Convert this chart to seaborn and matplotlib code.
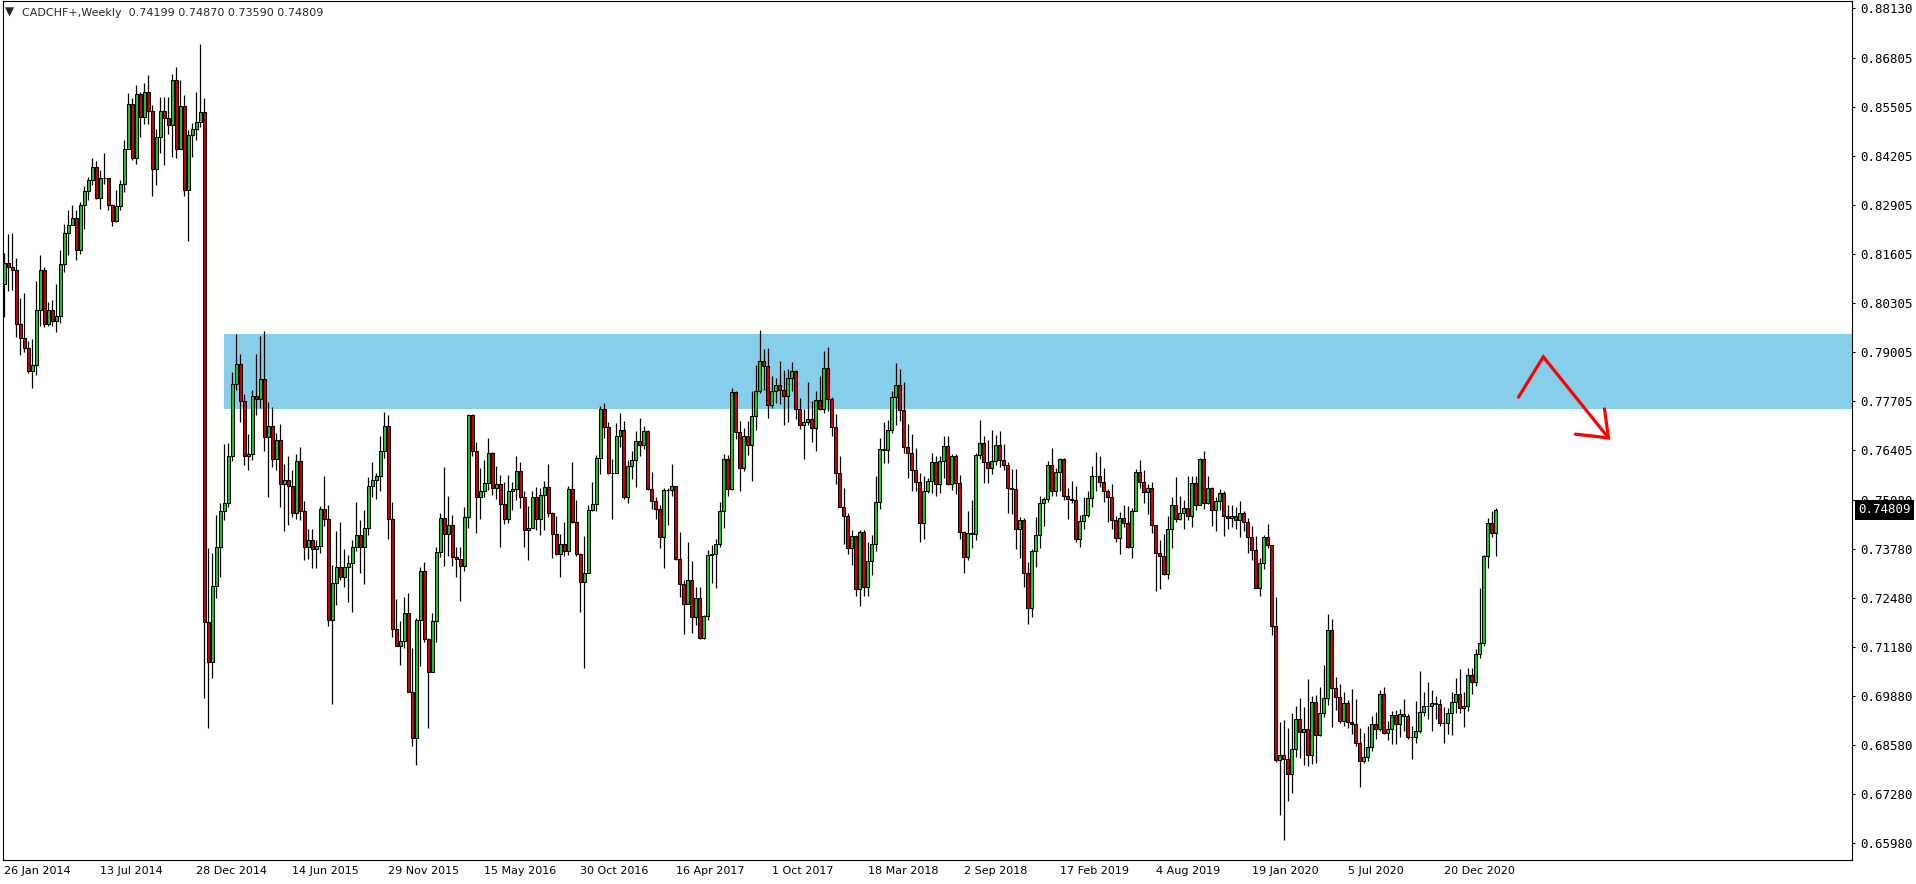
import numpy as np
import pandas as pd
import matplotlib
matplotlib.use("Agg")
import matplotlib.pyplot as plt
from matplotlib.transforms import blended_transform_factory
import seaborn as sns

sns.set_style("white")
plt.rcParams["font.family"] = ["DejaVu Sans"]

# weekly CADCHF+ candles, first week = 26 Jan 2014
first_open = 0.8081

closes = [
    0.8137, 0.8125, 0.8118, 0.7973, 0.7938, 0.7911, 0.7850, 0.7865, 0.8012, 0.8118,
    0.7973, 0.8010, 0.7982, 0.7995, 0.8134, 0.8214, 0.8236, 0.8256, 0.8170, 0.8289,
    0.8326, 0.8355, 0.8389, 0.8307, 0.8362, 0.8361, 0.8289, 0.8247, 0.8286, 0.8345,
    0.8439, 0.8556, 0.8413, 0.8585, 0.8523, 0.8589, 0.8539, 0.8386, 0.8470, 0.8538,
    0.8521, 0.8501, 0.8622, 0.8439, 0.8552, 0.8330, 0.8476, 0.8490, 0.8509, 0.8535,
    0.7185, 0.7079, 0.7280, 0.7384, 0.7478, 0.7499, 0.7624, 0.7814, 0.7867, 0.7771,
    0.7624, 0.7629, 0.7782, 0.7775, 0.7828, 0.7674, 0.7704, 0.7615, 0.7667, 0.7549,
    0.7561, 0.7545, 0.7474, 0.7611, 0.7479, 0.7384, 0.7402, 0.7377, 0.7386, 0.7483,
    0.7456, 0.7188, 0.7288, 0.7329, 0.7303, 0.7331, 0.7340, 0.7382, 0.7415, 0.7382,
    0.7433, 0.7545, 0.7561, 0.7570, 0.7638, 0.7704, 0.7456, 0.7165, 0.7121, 0.7134,
    0.7207, 0.6999, 0.6876, 0.7189, 0.7319, 0.7138, 0.7052, 0.7187, 0.7369, 0.7459,
    0.7417, 0.7441, 0.7357, 0.7351, 0.7333, 0.7462, 0.7733, 0.7636, 0.7516, 0.7532,
    0.7552, 0.7631, 0.7539, 0.7549, 0.7496, 0.7456, 0.7532, 0.7537, 0.7583, 0.7515,
    0.7428, 0.7433, 0.7515, 0.7456, 0.7521, 0.7541, 0.7472, 0.7417, 0.7364, 0.7390,
    0.7372, 0.7537, 0.7448, 0.7364, 0.7291, 0.7313, 0.7481, 0.7497, 0.7618, 0.7749,
    0.7700, 0.7578, 0.7580, 0.7676, 0.7693, 0.7515, 0.7598, 0.7614, 0.7664, 0.7654,
    0.7689, 0.7536, 0.7505, 0.7483, 0.7409, 0.7534, 0.7535, 0.7545, 0.7351, 0.7284,
    0.7231, 0.7296, 0.7198, 0.7247, 0.7141, 0.7200, 0.7362, 0.7365, 0.7391, 0.7478,
    0.7615, 0.7536, 0.7793, 0.7687, 0.7592, 0.7677, 0.7652, 0.7729, 0.7797, 0.7877,
    0.7863, 0.7758, 0.7797, 0.7813, 0.7798, 0.7783, 0.7830, 0.7850, 0.7748, 0.7705,
    0.7714, 0.7722, 0.7698, 0.7773, 0.7748, 0.7857, 0.7775, 0.7700, 0.7578, 0.7490,
    0.7466, 0.7381, 0.7412, 0.7271, 0.7422, 0.7276, 0.7346, 0.7390, 0.7503, 0.7642,
    0.7640, 0.7693, 0.7780, 0.7813, 0.7746, 0.7649, 0.7631, 0.7587, 0.7556, 0.7446,
    0.7532, 0.7558, 0.7608, 0.7549, 0.7612, 0.7651, 0.7549, 0.7623, 0.7552, 0.7422,
    0.7357, 0.7419, 0.7418, 0.7627, 0.7658, 0.7609, 0.7593, 0.7612, 0.7653, 0.7614,
    0.7600, 0.7539, 0.7537, 0.7430, 0.7455, 0.7313, 0.7220, 0.7372, 0.7415, 0.7499,
    0.7509, 0.7600, 0.7530, 0.7581, 0.7615, 0.7517, 0.7510, 0.7508, 0.7404, 0.7452,
    0.7468, 0.7512, 0.7571, 0.7570, 0.7555, 0.7530, 0.7514, 0.7453, 0.7406, 0.7459,
    0.7446, 0.7382, 0.7479, 0.7581, 0.7555, 0.7528, 0.7539, 0.7440, 0.7366, 0.7360,
    0.7312, 0.7430, 0.7493, 0.7457, 0.7472, 0.7486, 0.7464, 0.7552, 0.7493, 0.7616,
    0.7499, 0.7539, 0.7481, 0.7505, 0.7526, 0.7466, 0.7459, 0.7466, 0.7453, 0.7472,
    0.7449, 0.7409, 0.7375, 0.7275, 0.7340, 0.7409, 0.7389, 0.7172, 0.6817, 0.6830,
    0.6820, 0.6780, 0.6847, 0.6926, 0.6893, 0.6899, 0.6831, 0.6971, 0.6883, 0.6942,
    0.6982, 0.7163, 0.7010, 0.6986, 0.6922, 0.6968, 0.6920, 0.6913, 0.6864, 0.6816,
    0.6825, 0.6853, 0.6913, 0.6900, 0.6992, 0.6890, 0.6900, 0.6937, 0.6913, 0.6939,
    0.6936, 0.6878, 0.6878, 0.6895, 0.6944, 0.6961, 0.6961, 0.6968, 0.6966, 0.6917,
    0.6917, 0.6942, 0.6971, 0.6992, 0.6955, 0.6961, 0.7043, 0.7024, 0.7098, 0.7127,
    0.7360, 0.7446, 0.74199, 0.74809,
]

highs = [
    0.8161, 0.8212, 0.8216, 0.8150, 0.8044, 0.8055, 0.7929, 0.7933, 0.8087, 0.8156,
    0.8124, 0.8031, 0.8037, 0.8079, 0.8170, 0.8239, 0.8276, 0.8289, 0.8276, 0.8298,
    0.8339, 0.8364, 0.8415, 0.8406, 0.8382, 0.8426, 0.8362, 0.8293, 0.8329, 0.8355,
    0.8461, 0.8587, 0.8572, 0.8607, 0.8589, 0.8612, 0.8634, 0.8554, 0.8492, 0.8576,
    0.8576, 0.8576, 0.8638, 0.8654, 0.8620, 0.8581, 0.8488, 0.8507, 0.8589, 0.8716,
    0.8572, 0.7379, 0.7366, 0.7468, 0.7499, 0.7656, 0.7658, 0.7846, 0.7948, 0.7895,
    0.7789, 0.7683, 0.7799, 0.7895, 0.7941, 0.7956, 0.7766, 0.7753, 0.7684, 0.7709,
    0.7602, 0.7624, 0.7587, 0.7630, 0.7649, 0.7505, 0.7430, 0.7430, 0.7402, 0.7492,
    0.7570, 0.7494, 0.7335, 0.7426, 0.7450, 0.7377, 0.7362, 0.7402, 0.7501, 0.7453,
    0.7481, 0.7568, 0.7608, 0.7578, 0.7677, 0.7740, 0.7733, 0.7503, 0.7245, 0.7187,
    0.7249, 0.7260, 0.7114, 0.7194, 0.7331, 0.7342, 0.7141, 0.7207, 0.7382, 0.7472,
    0.7596, 0.7518, 0.7468, 0.7384, 0.7384, 0.7490, 0.7735, 0.7735, 0.7661, 0.7593,
    0.7614, 0.7671, 0.7634, 0.7598, 0.7574, 0.7554, 0.7574, 0.7554, 0.7624, 0.7609,
    0.7530, 0.7492, 0.7530, 0.7541, 0.7539, 0.7559, 0.7603, 0.7475, 0.7465, 0.7417,
    0.7448, 0.7545, 0.7607, 0.7508, 0.7366, 0.7412, 0.7494, 0.7554, 0.7627, 0.7757,
    0.7764, 0.7713, 0.7615, 0.7711, 0.7737, 0.7718, 0.7614, 0.7636, 0.7691, 0.7724,
    0.7704, 0.7693, 0.7581, 0.7516, 0.7494, 0.7539, 0.7539, 0.7603, 0.7545, 0.7422,
    0.7296, 0.7397, 0.7346, 0.7278, 0.7278, 0.7203, 0.7375, 0.7387, 0.7403, 0.7501,
    0.7630, 0.7627, 0.7804, 0.7797, 0.7718, 0.7698, 0.7717, 0.7795, 0.7866, 0.7958,
    0.7907, 0.7910, 0.7835, 0.7830, 0.7877, 0.7852, 0.7854, 0.7873, 0.7852, 0.7777,
    0.7748, 0.7821, 0.7770, 0.7797, 0.7835, 0.7903, 0.7913, 0.7780, 0.7735, 0.7624,
    0.7540, 0.7474, 0.7428, 0.7415, 0.7428, 0.7427, 0.7397, 0.7415, 0.7570, 0.7671,
    0.7715, 0.7720, 0.7797, 0.7870, 0.7854, 0.7819, 0.7709, 0.7682, 0.7646, 0.7578,
    0.7570, 0.7565, 0.7633, 0.7623, 0.7624, 0.7676, 0.7677, 0.7629, 0.7629, 0.7574,
    0.7424, 0.7478, 0.7508, 0.7633, 0.7720, 0.7676, 0.7667, 0.7693, 0.7680, 0.7689,
    0.7656, 0.7609, 0.7589, 0.7589, 0.7463, 0.7459, 0.7344, 0.7377, 0.7462, 0.7518,
    0.7514, 0.7611, 0.7645, 0.7592, 0.7620, 0.7620, 0.7539, 0.7558, 0.7545, 0.7468,
    0.7515, 0.7532, 0.7598, 0.7634, 0.7623, 0.7592, 0.7537, 0.7550, 0.7464, 0.7475,
    0.7495, 0.7492, 0.7486, 0.7589, 0.7614, 0.7586, 0.7550, 0.7555, 0.7442, 0.7402,
    0.7418, 0.7464, 0.7515, 0.7567, 0.7518, 0.7508, 0.7571, 0.7571, 0.7571, 0.7620,
    0.7638, 0.7571, 0.7541, 0.7514, 0.7537, 0.7532, 0.7495, 0.7495, 0.7488, 0.7505,
    0.7477, 0.7459, 0.7439, 0.7411, 0.7353, 0.7415, 0.7444, 0.7389, 0.7250, 0.6920,
    0.6924, 0.6902, 0.6942, 0.6962, 0.6982, 0.6958, 0.7032, 0.6988, 0.6990, 0.7012,
    0.7070, 0.7205, 0.7192, 0.7039, 0.7020, 0.6997, 0.6977, 0.7006, 0.6981, 0.6902,
    0.6889, 0.6908, 0.6935, 0.6944, 0.7004, 0.7011, 0.6921, 0.6949, 0.6951, 0.6952,
    0.6979, 0.6940, 0.6908, 0.6975, 0.7054, 0.6999, 0.7024, 0.7004, 0.6988, 0.6981,
    0.6959, 0.6955, 0.6997, 0.7036, 0.7059, 0.6997, 0.7061, 0.7061, 0.7111, 0.7275,
    0.7362, 0.7459, 0.7477, 0.74870,
]

lows = [
    0.7993, 0.8062, 0.8065, 0.7940, 0.7893, 0.7900, 0.7843, 0.7805, 0.7838, 0.7968,
    0.7966, 0.7969, 0.7968, 0.7953, 0.7977, 0.8112, 0.8156, 0.8254, 0.8143, 0.8159,
    0.8225, 0.8302, 0.8342, 0.8305, 0.8278, 0.8346, 0.8276, 0.8233, 0.8245, 0.8276,
    0.8324, 0.8437, 0.8408, 0.8398, 0.8470, 0.8504, 0.8505, 0.8314, 0.8342, 0.8426,
    0.8395, 0.8479, 0.8417, 0.8415, 0.8437, 0.8314, 0.8194, 0.8417, 0.8463, 0.8495,
    0.6983, 0.6904, 0.7035, 0.7247, 0.7304, 0.7455, 0.7488, 0.7612, 0.7798, 0.7714,
    0.7599, 0.7587, 0.7614, 0.7733, 0.7751, 0.7636, 0.7514, 0.7596, 0.7587, 0.7490,
    0.7426, 0.7441, 0.7463, 0.7456, 0.7453, 0.7347, 0.7350, 0.7326, 0.7326, 0.7366,
    0.7439, 0.7173, 0.6967, 0.7229, 0.7296, 0.7276, 0.7238, 0.7211, 0.7373, 0.7313,
    0.7285, 0.7415, 0.7514, 0.7510, 0.7530, 0.7620, 0.7403, 0.7143, 0.7121, 0.7070,
    0.7114, 0.6999, 0.6856, 0.6805, 0.7068, 0.7132, 0.6904, 0.7052, 0.7132, 0.7357,
    0.7333, 0.7360, 0.7333, 0.7302, 0.7240, 0.7318, 0.7433, 0.7625, 0.7421, 0.7457,
    0.7515, 0.7534, 0.7521, 0.7510, 0.7384, 0.7444, 0.7446, 0.7481, 0.7508, 0.7487,
    0.7384, 0.7347, 0.7433, 0.7428, 0.7415, 0.7428, 0.7462, 0.7353, 0.7362, 0.7304,
    0.7359, 0.7362, 0.7446, 0.7360, 0.7211, 0.7063, 0.7313, 0.7479, 0.7477, 0.7577,
    0.7673, 0.7577, 0.7457, 0.7580, 0.7649, 0.7510, 0.7499, 0.7562, 0.7543, 0.7623,
    0.7642, 0.7534, 0.7483, 0.7457, 0.7380, 0.7328, 0.7441, 0.7517, 0.7349, 0.7249,
    0.7151, 0.7231, 0.7156, 0.7176, 0.7138, 0.7138, 0.7188, 0.7287, 0.7273, 0.7382,
    0.7434, 0.7517, 0.7534, 0.7669, 0.7530, 0.7585, 0.7627, 0.7559, 0.7693, 0.7791,
    0.7799, 0.7726, 0.7751, 0.7764, 0.7762, 0.7705, 0.7715, 0.7797, 0.7722, 0.7695,
    0.7615, 0.7707, 0.7662, 0.7638, 0.7746, 0.7737, 0.7742, 0.7676, 0.7549, 0.7488,
    0.7390, 0.7364, 0.7334, 0.7253, 0.7227, 0.7253, 0.7253, 0.7309, 0.7372, 0.7483,
    0.7605, 0.7605, 0.7684, 0.7707, 0.7718, 0.7631, 0.7565, 0.7532, 0.7532, 0.7395,
    0.7404, 0.7525, 0.7527, 0.7517, 0.7527, 0.7565, 0.7547, 0.7534, 0.7523, 0.7404,
    0.7315, 0.7349, 0.7379, 0.7400, 0.7615, 0.7552, 0.7552, 0.7576, 0.7600, 0.7596,
    0.7587, 0.7472, 0.7470, 0.7377, 0.7353, 0.7278, 0.7178, 0.7196, 0.7331, 0.7381,
    0.7439, 0.7501, 0.7517, 0.7517, 0.7530, 0.7508, 0.7457, 0.7499, 0.7395, 0.7384,
    0.7430, 0.7462, 0.7490, 0.7530, 0.7543, 0.7501, 0.7450, 0.7431, 0.7395, 0.7364,
    0.7437, 0.7381, 0.7353, 0.7477, 0.7539, 0.7499, 0.7470, 0.7419, 0.7265, 0.7271,
    0.7309, 0.7297, 0.7380, 0.7450, 0.7453, 0.7430, 0.7453, 0.7435, 0.7481, 0.7493,
    0.7484, 0.7497, 0.7439, 0.7424, 0.7481, 0.7411, 0.7430, 0.7435, 0.7430, 0.7409,
    0.7424, 0.7368, 0.7349, 0.7274, 0.7254, 0.7324, 0.7380, 0.7150, 0.6814, 0.6672,
    0.6606, 0.6708, 0.6730, 0.6825, 0.6822, 0.6805, 0.6802, 0.6807, 0.6809, 0.6882,
    0.6933, 0.6964, 0.6906, 0.6951, 0.6917, 0.6908, 0.6904, 0.6887, 0.6855, 0.6747,
    0.6809, 0.6816, 0.6843, 0.6875, 0.6896, 0.6886, 0.6871, 0.6860, 0.6860, 0.6880,
    0.6896, 0.6873, 0.6820, 0.6862, 0.6889, 0.6935, 0.6926, 0.6896, 0.6926, 0.6908,
    0.6864, 0.6887, 0.6884, 0.6943, 0.6943, 0.6906, 0.6949, 0.6992, 0.7015, 0.7088,
    0.7121, 0.7328, 0.7408, 0.73590,
]

date_labels = ["26 Jan 2014", "13 Jul 2014", "28 Dec 2014", "14 Jun 2015", "29 Nov 2015",
               "15 May 2016", "30 Oct 2016", "16 Apr 2017", "1 Oct 2017", "18 Mar 2018",
               "2 Sep 2018", "17 Feb 2019", "4 Aug 2019", "19 Jan 2020", "5 Jul 2020",
               "20 Dec 2020"]
label_step = 24  # weeks between date labels

price_ticks = [0.88130, 0.86805, 0.85505, 0.84205, 0.82905, 0.81605, 0.80305, 0.79005,
               0.77705, 0.76405, 0.75080, 0.73780, 0.72480, 0.71180, 0.69880, 0.68580,
               0.67280, 0.65980]

# supply zone and hand-drawn arrow
zone = [0.77486, 0.79474]
zone_start = 54.9
arrow_x = [378.7, 384.9, 401.2]
arrow_y = [0.7780, 0.7887, 0.7672]
head_x = [400.2, 401.2, 392.9]
head_y = [0.7749, 0.7672, 0.7682]

df = pd.DataFrame({"close": closes, "high": highs, "low": lows})
df["open"] = df["close"].shift(1).fillna(first_open)
df["open"] = df["open"].where(df.index != len(df) - 1, 0.74199)
df["x"] = np.arange(len(df))
df["up"] = df["close"] >= df["open"]
df["bottom"] = df[["open", "close"]].min(axis=1)
df["body"] = (df["close"] - df["open"]).abs().clip(lower=0.00004)
df["hi"] = df[["high", "open", "close"]].max(axis=1)
df["lo"] = df[["low", "open", "close"]].min(axis=1)

W, H = 1916, 884
fig = plt.figure(figsize=(W / 100, H / 100), dpi=100)
ax = fig.add_axes([3 / W, 1 - 860 / H, (1852 - 3) / W, (860 - 1) / H])

xlim = (-0.3, 462.1)
ylim = (0.65529, 0.88303)
ax.set_xlim(*xlim)
ax.set_ylim(*ylim)

xmin_frac = (zone_start - xlim[0]) / (xlim[1] - xlim[0])
ax.axhspan(zone[0], zone[1], xmin=xmin_frac, xmax=1, facecolor="#87CEEB",
           edgecolor="none", zorder=1)

ax.vlines(df["x"], df["lo"], df["hi"], colors="black", linewidth=0.9, zorder=2)
colors = np.where(df["up"], "#22c422", "#cc0000")
ax.bar(df["x"], df["body"], bottom=df["bottom"], width=0.75, color=colors,
       edgecolor="black", linewidth=0.75, zorder=3)

ax.plot(arrow_x, arrow_y, color="#ff0000", lw=2.3, zorder=4, solid_joinstyle="miter")
ax.plot(head_x, head_y, color="#ff0000", lw=2.3, zorder=4, solid_joinstyle="miter")

for s in ax.spines.values():
    s.set_color("black")
    s.set_linewidth(0.8)

ax.set_xticks(np.arange(len(date_labels)) * label_step)
ax.set_xticklabels(date_labels)
for t in ax.get_xticklabels():
    t.set_horizontalalignment("left")
ax.tick_params(axis="x", direction="out", length=2.5, width=0.8, pad=2,
               labelsize=8, colors="black")

ax.yaxis.tick_right()
ax.set_yticks(price_ticks)
ax.set_yticklabels([f"{p:.5f}" for p in price_ticks])
ax.tick_params(axis="y", direction="out", length=2, width=0.8, pad=4,
               labelsize=9, labelfontfamily="DejaVu Sans Mono", colors="black")
ax.set_xlabel("")
ax.set_ylabel("")
ax.grid(False)

last = df["close"].iloc[-1]
tr = blended_transform_factory(ax.transAxes, ax.transData)
ax.text(1.0035, last, f"{last:.5f}", transform=tr, ha="left", va="center",
        color="white", fontsize=9, family="DejaVu Sans Mono", clip_on=False, zorder=10,
        bbox=dict(boxstyle="square,pad=0.25", facecolor="black", edgecolor="none"))

last_row = df.iloc[-1]
fig.text(5 / W, 1 - 12.5 / H, "\u25bc", fontsize=8.5, va="center", ha="left")
fig.text(22 / W, 1 - 12.5 / H,
         f"CADCHF+,Weekly  {last_row['open']:.5f} {last_row['high']:.5f} "
         f"{last_row['low']:.5f} {last_row['close']:.5f}",
         fontsize=8, va="center", ha="left")

fig.savefig("out.png", dpi=100, facecolor="white")
